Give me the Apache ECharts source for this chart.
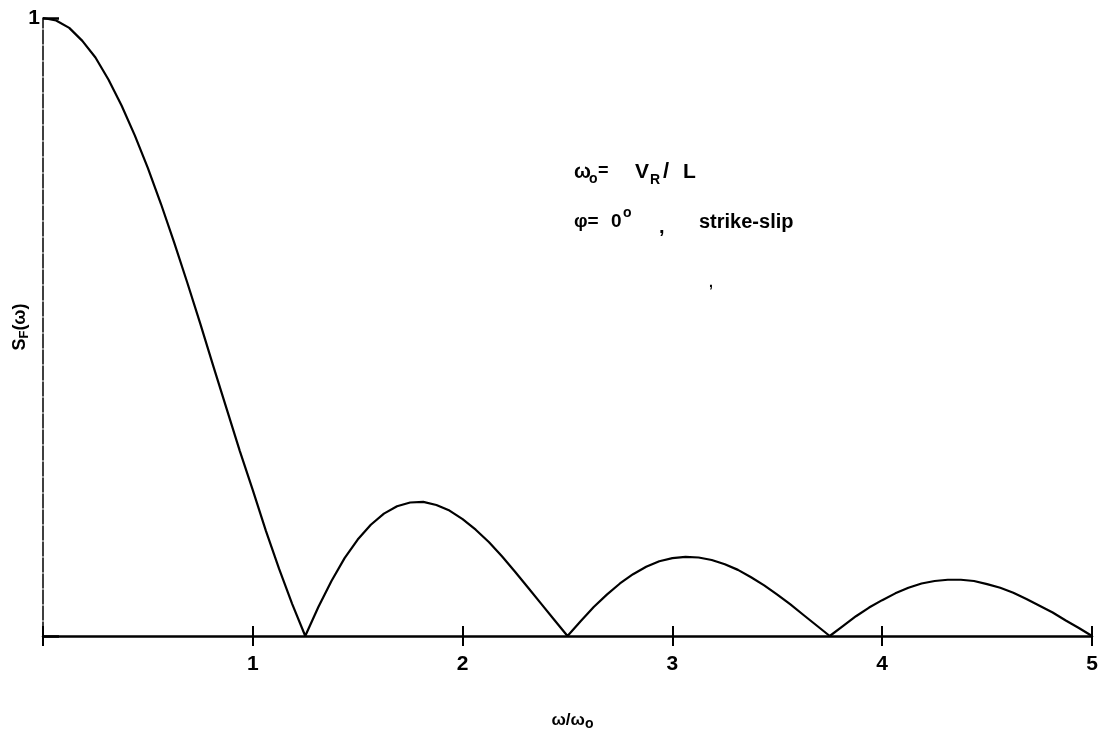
<!DOCTYPE html>
<html>
<head>
<meta charset="utf-8">
<script src="https://cdn.jsdelivr.net/npm/echarts@6/dist/echarts.min.js"></script>
<style>html,body{margin:0;padding:0;background:#fff;}#c{width:1103px;height:740px;}</style>
</head>
<body>
<div id="c"></div>
<script>
// omega / omega_0
var xValues = [0, 0.0625, 0.125, 0.1875, 0.25, 0.3125, 0.375, 0.4375, 0.5, 0.5625,
  0.625, 0.6875, 0.75, 0.8125, 0.875, 0.9375, 1.0, 1.0625, 1.125, 1.1875,
  1.25, 1.3125, 1.375, 1.4375, 1.5, 1.5625, 1.625, 1.6875, 1.75, 1.8125,
  1.875, 1.9375, 2.0, 2.0625, 2.125, 2.1875, 2.25, 2.3125, 2.375, 2.4375,
  2.5, 2.5625, 2.625, 2.6875, 2.75, 2.8125, 2.875, 2.9375, 3.0, 3.0625,
  3.125, 3.1875, 3.25, 3.3125, 3.375, 3.4375, 3.5, 3.5625, 3.625, 3.6875,
  3.75, 3.8125, 3.875, 3.9375, 4.0, 4.0625, 4.125, 4.1875, 4.25, 4.3125,
  4.375, 4.4375, 4.5, 4.5625, 4.625, 4.6875, 4.75, 4.8125, 4.875, 4.9375, 5.0];
// S_F(omega)
var sValues = [1.0, 0.996, 0.984, 0.963, 0.936, 0.900, 0.858, 0.810, 0.757, 0.699,
  0.637, 0.572, 0.505, 0.436, 0.368, 0.300, 0.236, 0.170, 0.109, 0.052,
  0.0, 0.047, 0.089, 0.126, 0.156, 0.180, 0.198, 0.210, 0.216, 0.217,
  0.212, 0.203, 0.189, 0.172, 0.152, 0.129, 0.104, 0.078, 0.052, 0.026,
  0.0, 0.024, 0.047, 0.067, 0.085, 0.100, 0.112, 0.121, 0.126, 0.128,
  0.127, 0.123, 0.116, 0.107, 0.095, 0.082, 0.067, 0.051, 0.034, 0.017,
  0.0, 0.016, 0.032, 0.046, 0.058, 0.069, 0.078, 0.085, 0.089, 0.091,
  0.091, 0.089, 0.084, 0.078, 0.070, 0.060, 0.049, 0.038, 0.025, 0.013, 0.0];
var xTickLabels = ['', '1', '2', '3', '4', '5'];
var yTickLabels = ['', '1'];

var FONT = 'Liberation Sans';
var chart = echarts.init(document.getElementById('c'));
var seriesData = xValues.map(function (x, i) { return [x, sValues[i]]; });

function txt(x, y, text, size, extra) {
  var st = { text: text, fontFamily: FONT, fontWeight: 'bold', fontSize: size, fill: '#000',
    textAlign: 'left', textVerticalAlign: 'middle' };
  if (extra) { for (var k in extra) st[k] = extra[k]; }
  return { type: 'text', x: x, y: y, style: st, z: 10 };
}

chart.setOption({
  backgroundColor: '#ffffff',
  animation: false,
  grid: { left: 43, right: 11, top: 18, bottom: 104, containLabel: false, outerBoundsMode: 'none' },
  xAxis: [{
    type: 'value', min: 0, max: 5, interval: 1,
    name: 'ω/ω{sub|o}', nameLocation: 'middle', nameGap: 73, nameMoveOverlap: false,
    nameTextStyle: { fontFamily: FONT, fontWeight: 'bold', fontSize: 17, color: '#000', padding: [0, 0, 0, 10],
      rich: { sub: { fontFamily: FONT, fontWeight: 'bold', fontSize: 14, verticalAlign: 'bottom', padding: [8, 0, 0, 0] } } },
    axisLine: { show: true, lineStyle: { color: '#000', width: 2.5 } },
    axisTick: { show: true, length: 10, lineStyle: { color: '#000', width: 2 } },
    axisLabel: { margin: 18, fontFamily: FONT, fontWeight: 'bold', fontSize: 21, color: '#000',
      formatter: function (v) { return xTickLabels[Math.round(v)]; } },
    splitLine: { show: false }
  }, {
    type: 'value', min: 0, max: 5, interval: 1, position: 'bottom',
    axisLine: { show: false },
    axisTick: { show: true, inside: true, length: 10, lineStyle: { color: '#000', width: 2 } },
    axisLabel: { show: false },
    splitLine: { show: false }
  }],
  yAxis: {
    type: 'value', min: 0, max: 1, interval: 1,
    name: 'S{sub|F}(ω)', nameLocation: 'middle', nameGap: 12, nameRotate: 90, nameMoveOverlap: false,
    nameTextStyle: { fontFamily: FONT, fontWeight: 'bold', fontSize: 18, color: '#000',
      rich: { sub: { fontFamily: FONT, fontWeight: 'bold', fontSize: 13, verticalAlign: 'bottom', padding: [8, 0, 0, 0] } } },
    axisLine: { show: true, lineStyle: { color: '#000', width: 1.5, type: [14, 2] } },
    axisTick: { show: true, inside: true, length: 16, lineStyle: { color: '#000', width: 2.5 } },
    axisLabel: { margin: 3, fontFamily: FONT, fontWeight: 'bold', fontSize: 21, color: '#000',
      formatter: function (v) { return yTickLabels[Math.round(v)]; } },
    splitLine: { show: false }
  },
  graphic: [
    txt(574, 172, 'ω', 20),
    txt(589, 179, 'o', 14),
    txt(598, 171, '=', 18),
    txt(635, 172, 'V', 21),
    txt(650, 180, 'R', 14),
    txt(663, 172, '/', 22),
    txt(683, 172, 'L', 21),
    txt(574, 222, 'φ=', 19),
    txt(611, 222, '0', 19),
    txt(623, 213, 'o', 14),
    txt(659, 227, ',', 20),
    txt(699, 222, 'strike-slip', 20),
    txt(709, 283, ',', 14)
  ],
  series: [{
    type: 'line',
    data: seriesData,
    smooth: false,
    showSymbol: false,
    lineStyle: { color: '#000', width: 2.2 },
    clip: false
  }]
});
</script>
</body>
</html>
